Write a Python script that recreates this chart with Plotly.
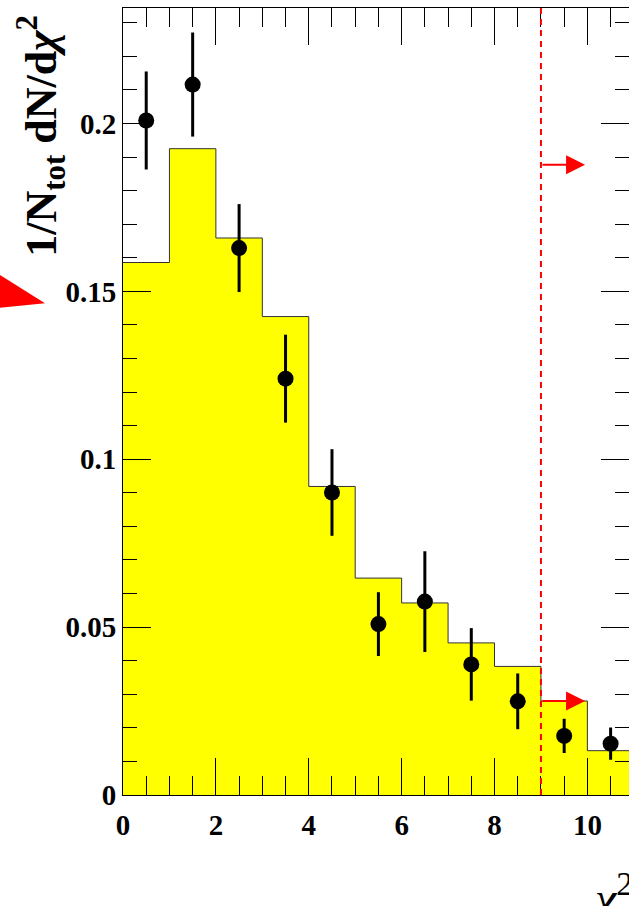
import plotly.graph_objects as go

# Histogram (normalised chi^2 distribution), unit-width bins from 0 to 11
bin_edges = [0, 1, 2, 3, 4, 5, 6, 7, 8, 9, 10, 11]
hist_values = [0.1586, 0.1925, 0.1659, 0.1425, 0.0919, 0.0646, 0.0572, 0.0453, 0.0383, 0.0280, 0.0132]

# Data points with statistical errors at bin centres
data_x = [0.5, 1.5, 2.5, 3.5, 4.5, 5.5, 6.5, 7.5, 8.5, 9.5, 10.5]
data_y = [0.2009, 0.2116, 0.1629, 0.1240, 0.0901, 0.0509, 0.0576, 0.0389, 0.0279, 0.0176, 0.0153]
data_err = [0.0146, 0.0155, 0.0131, 0.0131, 0.0129, 0.0095, 0.0150, 0.0108, 0.0083, 0.0051, 0.0048]

# Selection cut and the arrows marking the accepted side
cut_x = 9.0
arrow_tip_x = 9.95
arrow_y = [0.1877, 0.0280]

x_range = [0, 10.896]
y_range = [0, 0.2344]

x_tickvals = [0, 2, 4, 6, 8, 10]
x_ticktext = ["0", "2", "4", "6", "8", "10"]
y_tickvals = [0, 0.05, 0.1, 0.15, 0.2]
y_ticktext = ["0", "0.05", "0.1", "0.15", "0.2"]

SERIF = "Liberation Serif"

fig = go.Figure()

# Filled step histogram
fig.add_trace(go.Scatter(
    x=bin_edges,
    y=hist_values + [hist_values[-1]],
    mode="lines",
    line=dict(shape="hv", color="#333333", width=1),
    fill="tozeroy",
    fillcolor="#ffff00",
    hoverinfo="skip",
    showlegend=False,
))

# Data points
fig.add_trace(go.Scatter(
    x=data_x,
    y=data_y,
    mode="markers",
    marker=dict(color="black", size=16),
    error_y=dict(type="data", array=data_err, visible=True,
                 color="black", thickness=3, width=0),
    showlegend=False,
))

# Dashed cut line
fig.add_shape(type="line", xref="x", yref="paper",
              x0=cut_x, x1=cut_x, y0=0, y1=1,
              line=dict(color="#ff0000", width=2, dash="6px,5px"))

# Arrows pointing to the accepted region
for ay in arrow_y:
    fig.add_annotation(
        x=arrow_tip_x, y=ay, ax=cut_x, ay=ay,
        xref="x", yref="y", axref="x", ayref="y",
        text="", showarrow=True,
        arrowhead=2, arrowsize=1.9, arrowwidth=2, arrowcolor="#ff0000",
    )

# Arrow head reaching in from the neighbouring pad
fig.add_shape(type="path", xref="paper", yref="paper",
              path="M -0.2628 0.6687 L -0.1542 0.6248 L -0.2628 0.6179 Z",
              fillcolor="#ff0000", line=dict(width=0))

# Axis titles
fig.add_annotation(
    text="1/N<sub>tot</sub> dN/d<i>χ</i><sup>2</sup>",
    xref="paper", yref="paper", x=-0.162, y=0.994,
    xanchor="center", yanchor="top", textangle=-90, showarrow=False,
    font=dict(family=SERIF, size=44, color="black", weight="bold"),
)
fig.add_annotation(
    text="<i>χ</i><sup>2</sup>",
    xref="paper", yref="paper", x=1.012, y=-0.086,
    xanchor="right", yanchor="top", showarrow=False,
    font=dict(family=SERIF, size=48, color="black"),
)

fig.update_xaxes(
    range=x_range, showgrid=False, zeroline=False,
    showline=True, linecolor="black", linewidth=1, mirror="ticks",
    ticks="inside", ticklen=37, tickwidth=1, tickcolor="black",
    tickvals=x_tickvals, ticktext=x_ticktext,
    minor=dict(dtick=0.5, tick0=0, ticks="inside", ticklen=19, tickcolor="black", tickwidth=1),
    tickfont=dict(family=SERIF, size=29, color="black", weight="bold"),
    ticklabelstandoff=4,
)
fig.update_yaxes(
    range=y_range, showgrid=False, zeroline=False,
    showline=True, linecolor="black", linewidth=1, mirror="ticks",
    ticks="inside", ticklen=28, tickwidth=1, tickcolor="black",
    tickvals=y_tickvals, ticktext=y_ticktext,
    minor=dict(dtick=0.01, tick0=0, ticks="inside", ticklen=14, tickcolor="black", tickwidth=1),
    tickfont=dict(family=SERIF, size=29, color="black", weight="bold"),
)

fig.update_layout(
    width=629, height=906,
    margin=dict(l=123, r=0, t=8, b=111),
    paper_bgcolor="white", plot_bgcolor="white",
    showlegend=False,
)

fig.write_html("out.html")
